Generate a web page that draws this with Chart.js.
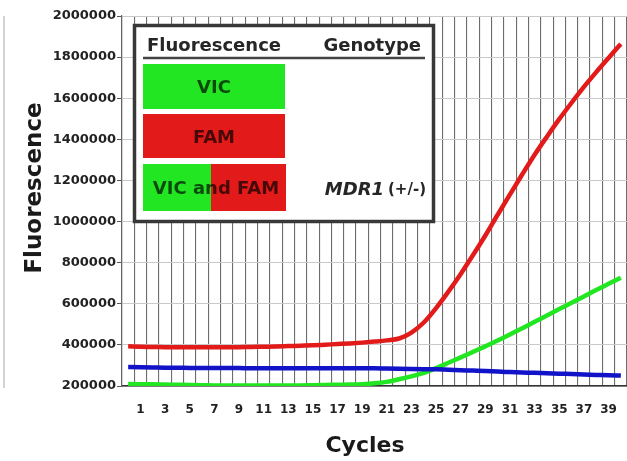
<!DOCTYPE html>
<html>
<head>
<meta charset="utf-8">
<script src="https://cdn.jsdelivr.net/npm/chart.js@4"></script>
<style>
  html, body { margin: 0; padding: 0; background: #fff; }
  canvas { display: block; }
</style>
</head>
<body>
<canvas id="chart" width="627" height="461"></canvas>
<script>
// Cycle numbers (x categories); only odd cycles get a label
const cycles = [0, 1, 2, 3, 4, 5, 6, 7, 8, 9, 10, 11, 12, 13, 14, 15, 16, 17, 18, 19, 20,
                21, 22, 23, 24, 25, 26, 27, 28, 29, 30, 31, 32, 33, 34, 35, 36, 37, 38, 39, 40];

// FAM (red) fluorescence per cycle
const famValues = [393000, 391000, 390000, 389000, 388000, 388000, 388000, 388000, 388000, 389000,
                   390000, 391000, 392000, 394000, 396000, 398000, 401000, 404000, 407000, 411000,
                   416000, 422000, 431000, 460000, 509000, 579000, 659000, 745000, 837000, 932000,
                   1033000, 1132000, 1230000, 1325000, 1413000, 1498000, 1578000, 1655000, 1727000, 1796000,
                   1864000];

// VIC (green) fluorescence per cycle
const vicValues = [210000, 209000, 208000, 207000, 206000, 205000, 204000, 203000, 203000, 203000,
                   203000, 203000, 203000, 203000, 203000, 204000, 205000, 206000, 207000, 209000,
                   213000, 220000, 233000, 247000, 264000, 287000, 313000, 339000, 366000, 393000,
                   421000, 451000, 481000, 512000, 543000, 574000, 605000, 636000, 667000, 697000,
                   727000];

// Blue reference trace
const refValues = [292000, 291000, 290000, 289000, 289000, 288000, 288000, 287000, 287000, 287000,
                   286000, 286000, 286000, 286000, 286000, 286000, 286000, 286000, 286000, 286000,
                   286000, 285000, 284000, 283000, 282000, 281000, 279000, 277000, 275000, 273000,
                   270000, 268000, 266000, 264000, 262000, 260000, 258000, 256000, 254000, 252000,
                   251000];

// Legend table texts
const legendHeaders = ['Fluorescence', 'Genotype'];
const legendRows = ['VIC', 'FAM', 'VIC and FAM'];
const genotypeName = 'MDR1';
const genotypeSuffix = '(+/-)';

const GREEN = '#22e622';
const RED = '#e31a1a';
const BLUE = '#1212c8';
const BOLD = 'bold 18px "DejaVu Sans"';

// Draws axis titles, the legend table and the faint edge line
const overlayPlugin = {
    id: 'overlay',
    afterDraw(chart) {
        const ctx = chart.ctx;
        ctx.save();

        // faint line on the far left edge (from the source figure)
        ctx.strokeStyle = '#c4c4c4';
        ctx.lineWidth = 1.5;
        ctx.beginPath();
        ctx.moveTo(4, 16);
        ctx.lineTo(4, 388);
        ctx.stroke();

        // axis titles
        ctx.fillStyle = '#1a1a1a';
        ctx.font = 'bold 22px "DejaVu Sans"';
        ctx.textAlign = 'center';
        ctx.textBaseline = 'alphabetic';
        ctx.fillText('Cycles', 365, 452);

        ctx.save();
        ctx.translate(41, 188);
        ctx.rotate(-Math.PI / 2);
        ctx.font = 'bold 23px "DejaVu Sans"';
        ctx.fillText('Fluorescence', 0, 0);
        ctx.restore();

        // legend box
        ctx.fillStyle = '#fff';
        ctx.fillRect(134, 25, 300, 197);
        ctx.strokeStyle = '#383838';
        ctx.lineWidth = 3.5;
        ctx.strokeRect(134.5, 25.5, 299, 196);

        ctx.fillStyle = '#262626';
        ctx.font = BOLD;
        ctx.textAlign = 'left';
        ctx.fillText(legendHeaders[0], 147, 51);
        ctx.textAlign = 'right';
        ctx.fillText(legendHeaders[1], 421, 51);

        ctx.strokeStyle = '#444';
        ctx.lineWidth = 2.5;
        ctx.beginPath();
        ctx.moveTo(143, 58);
        ctx.lineTo(425, 58);
        ctx.stroke();

        // colour swatches
        ctx.fillStyle = GREEN;
        ctx.fillRect(143, 64, 142, 45);
        ctx.fillStyle = RED;
        ctx.fillRect(143, 114, 142, 44);
        ctx.fillStyle = GREEN;
        ctx.fillRect(143, 164, 68, 47);
        ctx.fillStyle = RED;
        ctx.fillRect(211, 164, 75, 47);

        ctx.fillStyle = 'rgba(0, 0, 0, 0.68)';
        ctx.textAlign = 'center';
        ctx.fillText(legendRows[0], 214, 93);
        ctx.fillText(legendRows[1], 214, 143);
        ctx.fillText(legendRows[2], 216, 194);

        // genotype label
        ctx.fillStyle = '#262626';
        ctx.textAlign = 'right';
        ctx.font = 'bold 15px "DejaVu Sans"';
        ctx.fillText(genotypeSuffix, 426, 194);
        const suffixW = ctx.measureText(genotypeSuffix).width;
        ctx.font = 'italic bold 18px "DejaVu Sans"';
        ctx.fillText(genotypeName, 426 - suffixW - 4, 195);

        ctx.restore();
    }
};

const lineStyle = {
    pointRadius: 0,
    borderWidth: 4.5,
    cubicInterpolationMode: 'monotone',
    fill: false
};

new Chart(document.getElementById('chart').getContext('2d'), {
    type: 'line',
    data: {
        labels: cycles,
        datasets: [
            Object.assign({ label: 'Reference', data: refValues, borderColor: BLUE }, lineStyle),
            Object.assign({ label: 'VIC', data: vicValues, borderColor: GREEN }, lineStyle),
            Object.assign({ label: 'FAM', data: famValues, borderColor: RED }, lineStyle)
        ]
    },
    options: {
        responsive: false,
        animation: false,
        layout: { padding: { top: 16, right: 0, left: 0, bottom: 0 } },
        plugins: {
            legend: { display: false },
            tooltip: { enabled: false }
        },
        scales: {
            x: {
                offset: true,
                grid: {
                    offset: true,
                    color: 'rgba(60, 60, 60, 0.75)',
                    lineWidth: 1.1,
                    // invisible ticks push the labels down without adding side padding
                    drawTicks: true,
                    tickLength: 17,
                    tickColor: 'rgba(0, 0, 0, 0)'
                },
                border: { color: '#333', width: 1.5 },
                ticks: {
                    autoSkip: false,
                    maxRotation: 0,
                    padding: 0,
                    color: '#222',
                    font: { family: 'DejaVu Sans', weight: 'bold', size: 12 },
                    callback: (value, index) => cycles[index] % 2 === 1 ? String(cycles[index]) : ''
                },
                afterFit: scale => { scale.height = 75; }
            },
            y: {
                min: 200000,
                max: 2000000,
                grid: {
                    color: '#c9c9c9',
                    lineWidth: 1,
                    tickLength: 5,
                    tickColor: '#555'
                },
                border: { color: '#666', width: 1.2 },
                ticks: {
                    stepSize: 200000,
                    padding: 1,
                    color: '#222',
                    font: { family: 'DejaVu Sans', weight: 'bold', size: 13 },
                    callback: value => String(value)
                },
                afterFit: scale => { scale.width = 122; }
            }
        }
    },
    plugins: [overlayPlugin]
});
</script>
</body>
</html>
